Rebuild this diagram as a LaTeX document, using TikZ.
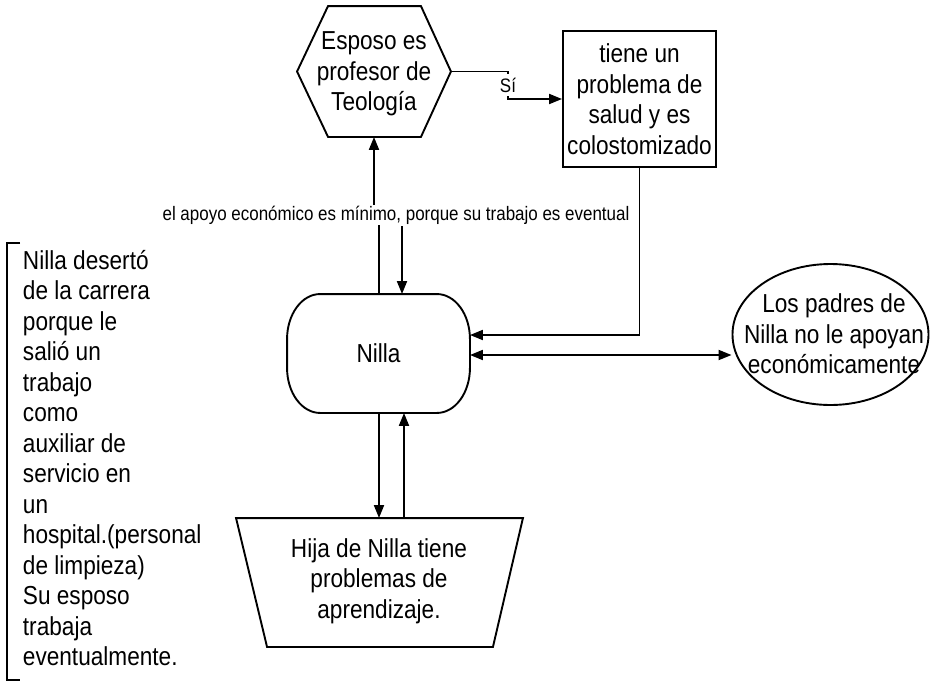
\documentclass[tikz,border=0pt]{standalone}
\usepackage{fontspec}
\setmainfont[FakeStretch=0.87]{Liberation Sans}
\usetikzlibrary{arrows.meta,shapes.geometric}
\begin{document}
\begin{tikzpicture}[x=1pt,y=-1pt,
  line width=1.9pt,
  txt/.style={align=center,font=\fontsize{26}{30.5}\selectfont,inner sep=0pt},
  lbl/.style={font=\fontsize{19.5}{22}\selectfont,fill=white,inner sep=1pt},
  arr/.style={-{Triangle[length=13pt,width=10pt]}},
  darr/.style={{Triangle[length=13pt,width=10pt]}-{Triangle[length=13pt,width=10pt]}}]
\useasboundingbox (0,0) rectangle (930,691);
% hexagon
\node[txt,minimum width=152pt,minimum height=129pt] (hex) at (374,71.5) {};
\draw (hex.west) -- ([xshift=31]hex.north west) -- ([xshift=-30]hex.north east) -- (hex.east)
  -- ([xshift=-30]hex.south east) -- ([xshift=31]hex.south west) -- cycle;
\node[txt] (hextxt) at (374,74) {Esposo es\\profesor de\\Teología};
% rectangle
\node[txt,draw,minimum width=153pt,minimum height=136pt] (rect) at (639.5,99) {tiene un\\problema de\\salud y es\\colostomizado};
% Nilla
\node[txt,minimum width=181pt,minimum height=117pt] (nilla) at (378.5,353.5) {Nilla};
\draw ([xshift=33]nilla.north west) -- ([xshift=-33]nilla.north east)
  .. controls ([xshift=-14.8]nilla.north east) and ([yshift=-20.2]nilla.north east) .. ([yshift=-45]nilla.north east)
  -- ([yshift=45]nilla.south east)
  .. controls ([yshift=20.2]nilla.south east) and ([xshift=-14.8]nilla.south east) .. ([xshift=-33]nilla.south east)
  -- ([xshift=33]nilla.south west)
  .. controls ([xshift=14.8]nilla.south west) and ([yshift=20.2]nilla.south west) .. ([yshift=45]nilla.south west)
  -- ([yshift=-45]nilla.north west)
  .. controls ([yshift=-20.2]nilla.north west) and ([xshift=14.8]nilla.north west) .. ([xshift=33]nilla.north west)
  -- cycle;
% ellipse
\node[ellipse,draw,minimum width=196pt,minimum height=141pt,inner sep=0pt] (padres) at (830.5,334.5) {};
\node[txt] (padrestxt) at (834,334) {Los padres de\\Nilla no le apoyan\\económicamente};
% trapezoid
\node[txt,minimum width=285pt,minimum height=127pt] (hija) at (379.5,582.5) {};
\draw (hija.north west) -- (hija.north east) -- ([xshift=-30]hija.south east) -- ([xshift=31]hija.south west) -- cycle;
\node[txt] (hijatxt) at (379,581) {Hija de Nilla tiene\\problemas de\\aprendizaje.};
% bracket note
\node[txt,align=left,anchor=north west] (note) at (22,249) {Nilla desertó\\de la carrera\\porque le\\salió un\\trabajo\\como\\auxiliar de\\servicio en\\un\\hospital.(personal\\de limpieza)\\Su esposo\\trabaja\\eventualmente.};
\draw (20,243) -- (7,243) -- (7,680) -- (20,680);
% connectors
\draw[arr] (hex.east) -- ++(57,0) |- (rect.west) node[pos=0.25,lbl,minimum height=22pt] (si) {Sí};
\draw[arr] ([xshift=0.5]nilla.north) -- ++(0,-80) -| (hex.south);
\node[lbl] (apoyo) at (396,215) {el apoyo económico es mínimo, porque su trabajo es eventual};
\coordinate (nr) at ([xshift=23.5]nilla.north);
\draw[arr] (apoyo.south -| nr) -- (nr);
\draw[arr] (rect.south) |- ([yshift=18.5]nilla.east);
\coordinate (ne) at ([yshift=-1.5]nilla.east);
\draw[darr] (ne) -- (ne -| padres.west);
\coordinate (sl) at ([xshift=0.5]nilla.south);
\coordinate (sr) at ([xshift=25.5]nilla.south);
\draw[arr] (sl) -- (sl |- hija.north);
\draw[arr] (sr |- hija.north) -- (sr);
\end{tikzpicture}
\end{document}
